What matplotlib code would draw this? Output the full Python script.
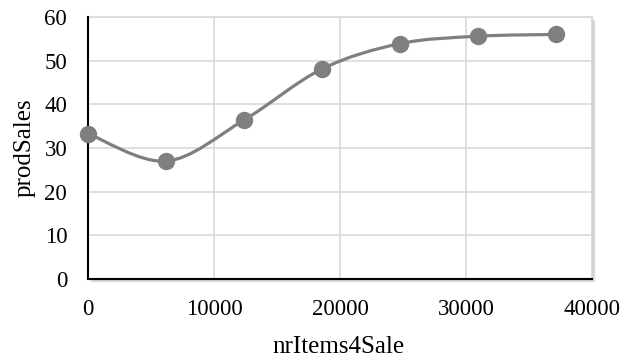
import matplotlib
matplotlib.use("Agg")
import matplotlib.pyplot as plt
import numpy as np
from matplotlib.path import Path
from matplotlib.patches import PathPatch, Rectangle

nr_items = [0, 6190, 12380, 18570, 24760, 30950, 37140]
prod_sales = [33.3, 27.0, 36.4, 48.1, 53.9, 55.6, 56.0]
x_ticks = [0, 10000, 20000, 30000, 40000]
y_ticks = [0, 10, 20, 30, 40, 50, 60]

LINE_COLOR = "#7f7f7f"
GRID_COLOR = "#d9d9d9"

plt.rcParams["font.family"] = ["Liberation Serif", "DejaVu Serif"]


def smooth_path(xs, ys):
    """Catmull-Rom style bezier through the points (spreadsheet 'smoothed line')."""
    pts = np.column_stack([xs, ys]).astype(float)
    n = len(pts)
    verts = [pts[0]]
    codes = [Path.MOVETO]
    for i in range(n - 1):
        p0 = pts[max(i - 1, 0)]
        p1 = pts[i]
        p2 = pts[i + 1]
        p3 = pts[min(i + 2, n - 1)]
        c1 = p1 + (p2 - p0) / 6.0
        c2 = p2 - (p3 - p1) / 6.0
        verts += [c1, c2, p2]
        codes += [Path.CURVE4] * 3
    return Path(verts, codes)


fig = plt.figure(figsize=(6.23, 3.61), dpi=100)
ax_pos = [0.1413, 0.2271, 0.809, 0.7258]

# soft drop shadow behind the plot area
for k, a in enumerate([0.05, 0.06, 0.08, 0.10]):
    off = (4 - k) / 623.0
    offy = (4 - k) / 361.0
    fig.patches.append(Rectangle((ax_pos[0] + off, ax_pos[1] - offy), ax_pos[2], ax_pos[3],
                                 transform=fig.transFigure, facecolor="black", alpha=a,
                                 edgecolor="none", zorder=0))

ax = fig.add_axes(ax_pos)
ax.set_zorder(1)
ax.set_xlim(0, 40000)
ax.set_ylim(0, 60)
ax.set_xticks(x_ticks)
ax.set_yticks(y_ticks)
ax.grid(True, color=GRID_COLOR, linewidth=1.2)
ax.set_axisbelow(True)
ax.tick_params(length=0, labelsize=16.5)
ax.tick_params(axis="x", pad=14.5)
ax.tick_params(axis="y", pad=15)

for side in ["top", "right"]:
    ax.spines[side].set_color(GRID_COLOR)
    ax.spines[side].set_linewidth(1.2)
for side in ["left", "bottom"]:
    ax.spines[side].set_color("black")
    ax.spines[side].set_linewidth(1.5)
    ax.spines[side].set_zorder(3)

ax.add_patch(PathPatch(smooth_path(nr_items, prod_sales), facecolor="none",
                       edgecolor=LINE_COLOR, linewidth=2.3, zorder=4, clip_on=False))
ax.plot(nr_items, prod_sales, linestyle="none", marker="o", markersize=11.5,
        color=LINE_COLOR, zorder=5, clip_on=False)

ax.set_xlabel("nrItems4Sale", fontsize=18, va="baseline")
ax.xaxis.set_label_coords(0.497, -0.282)
ax.set_ylabel("prodSales", fontsize=18, va="center")
ax.yaxis.set_label_coords(-0.125, 0.5)

fig.savefig("out.png", dpi=100)
